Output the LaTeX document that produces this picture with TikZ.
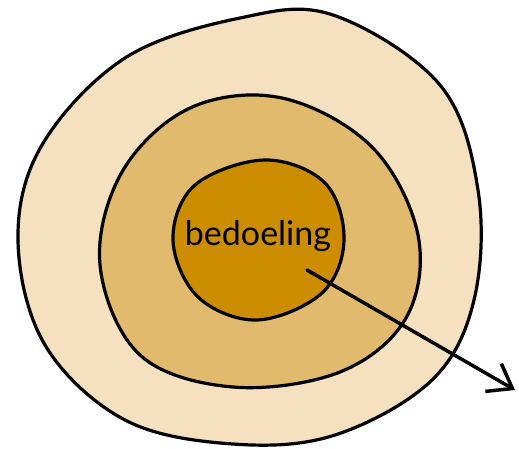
\documentclass[tikz,border=0pt]{standalone}
\usepackage{fontspec}
\setmainfont{Lato}
\usetikzlibrary{arrows.meta}
\definecolor{outerc}{RGB}{245,225,192}
\definecolor{midc}{RGB}{225,186,110}
\definecolor{innerc}{RGB}{205,141,0}
\tikzset{
  blob/.style={draw=black, line width=3.2pt, line join=round},
  lbl/.style={font=\fontsize{34}{36}\selectfont, text=black, inner sep=0pt},
  pointer/.style={draw=black, line width=3.5pt, line cap=round, -{Straight Barb[length=22pt,width=32pt,line width=3.5pt]}}
}
\begin{document}
\begin{tikzpicture}[x=1pt,y=-1pt]
\useasboundingbox (0,0) rectangle (519,448);
% outer ring
\path[blob, fill=outerc] plot[smooth cycle, tension=0.6] coordinates {
 (333,15) (440,85) (478,190) (474,300) (432,380) (335,435) (233,444)
 (125,420) (45,345) (18,240) (42,145) (125,58) (240,18)};
% middle ring
\path[blob, fill=midc] plot[smooth cycle, tension=0.6] coordinates {
 (282,98) (372,147) (418,235) (406,318) (340,372) (233,387) (140,355)
 (100,265) (122,172) (190,108)};
% inner core
\path[blob, fill=innerc] plot[smooth cycle, tension=0.6] coordinates {
 (265,160) (325,183) (344,240) (322,293) (257,320) (198,297) (173,240)
 (195,185)};
\node[lbl] (core) at (258,236) {bedoeling};
\coordinate (start) at (307,270);
\coordinate (tip) at (515,390);
\draw[pointer] (start) -- (tip);
\end{tikzpicture}
\end{document}
